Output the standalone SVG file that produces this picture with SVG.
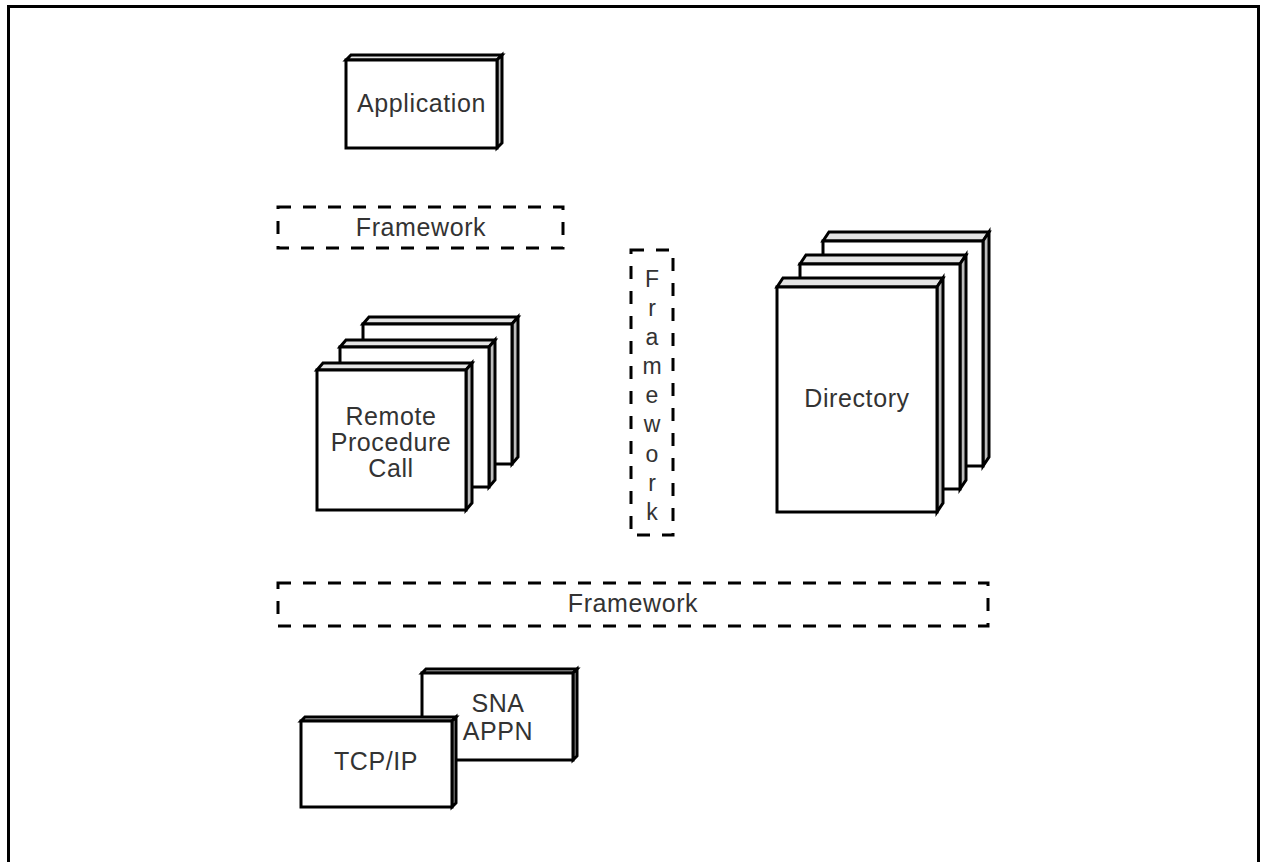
<svg xmlns="http://www.w3.org/2000/svg" width="1261" height="862" viewBox="0 0 1261 862">
<style>
.frame{fill:#fff;stroke:#000;stroke-width:3}
.top{fill:#e4e4e4;stroke:#000;stroke-width:3;stroke-linejoin:miter}
.side{fill:#bcbcbc;stroke:#000;stroke-width:3;stroke-linejoin:miter}
.face{fill:#fff;stroke:#000;stroke-width:3}
.dash{fill:none;stroke:#000;stroke-width:3;stroke-dasharray:13 12}
.t{font-family:"Liberation Sans",Arial,sans-serif;font-size:25px;fill:#333;text-anchor:middle;letter-spacing:0.6px}
.v{font-family:"Liberation Sans",Arial,sans-serif;font-size:23px;fill:#333;text-anchor:middle}
</style>
<rect class="frame" x="8.5" y="6.5" width="1250" height="870"/>

<g id="application">
<polygon class="top" points="346,60 351,55 502,55 497,60"/>
<polygon class="side" points="497,60 502,55 502,143 497,148"/>
<rect class="face" x="346" y="60" width="151" height="88"/>
<text class="t" x="421.5" y="112">Application</text>
</g>

<g id="framework-top">
<rect class="dash" x="278" y="207" width="285" height="41"/>
<text class="t" x="421" y="236">Framework</text>
</g>

<g id="framework-vertical">
<rect class="dash" x="631" y="250" width="42" height="285"/>
<text class="v" x="652" y="287">F</text>
<text class="v" x="652" y="316">r</text>
<text class="v" x="652" y="345">a</text>
<text class="v" x="652" y="374">m</text>
<text class="v" x="652" y="403">e</text>
<text class="v" x="652" y="432">w</text>
<text class="v" x="652" y="462">o</text>
<text class="v" x="652" y="491">r</text>
<text class="v" x="652" y="520">k</text>
</g>

<g id="rpc">
<polygon class="top" points="363,324 369,317 518,317 512,324"/>
<polygon class="side" points="512,324 518,317 518,457 512,464"/>
<rect class="face" x="363" y="324" width="149" height="140"/>
<polygon class="top" points="340,347 346,340 495,340 489,347"/>
<polygon class="side" points="489,347 495,340 495,480 489,487"/>
<rect class="face" x="340" y="347" width="149" height="140"/>
<polygon class="top" points="317,370 323,363 472,363 466,370"/>
<polygon class="side" points="466,370 472,363 472,503 466,510"/>
<rect class="face" x="317" y="370" width="149" height="140"/>
<text class="t" x="391" y="425">Remote</text>
<text class="t" x="391" y="451">Procedure</text>
<text class="t" x="391" y="477">Call</text>
</g>

<g id="directory">
<polygon class="top" points="823,241 829,232 989,232 983,241"/>
<polygon class="side" points="983,241 989,232 989,457 983,466"/>
<rect class="face" x="823" y="241" width="160" height="225"/>
<polygon class="top" points="800,264 806,255 966,255 960,264"/>
<polygon class="side" points="960,264 966,255 966,480 960,489"/>
<rect class="face" x="800" y="264" width="160" height="225"/>
<polygon class="top" points="777,287 783,278 943,278 937,287"/>
<polygon class="side" points="937,287 943,278 943,503 937,512"/>
<rect class="face" x="777" y="287" width="160" height="225"/>
<text class="t" x="857" y="407">Directory</text>
</g>

<g id="framework-bottom">
<rect class="dash" x="278" y="583" width="710" height="43"/>
<text class="t" x="633" y="612">Framework</text>
</g>

<g id="sna-appn">
<polygon class="top" points="422,673 426,669 577,669 573,673"/>
<polygon class="side" points="573,673 577,669 577,756 573,760"/>
<rect class="face" x="422" y="673" width="151" height="87"/>
<text class="t" x="498" y="712">SNA</text>
<text class="t" x="498" y="740">APPN</text>
</g>

<g id="tcp-ip">
<polygon class="top" points="301,721 305,717 456,717 452,721"/>
<polygon class="side" points="452,721 456,717 456,803 452,807"/>
<rect class="face" x="301" y="721" width="151" height="86"/>
<text class="t" x="376" y="770">TCP/IP</text>
</g>

<g id="connectors"></g>
</svg>
